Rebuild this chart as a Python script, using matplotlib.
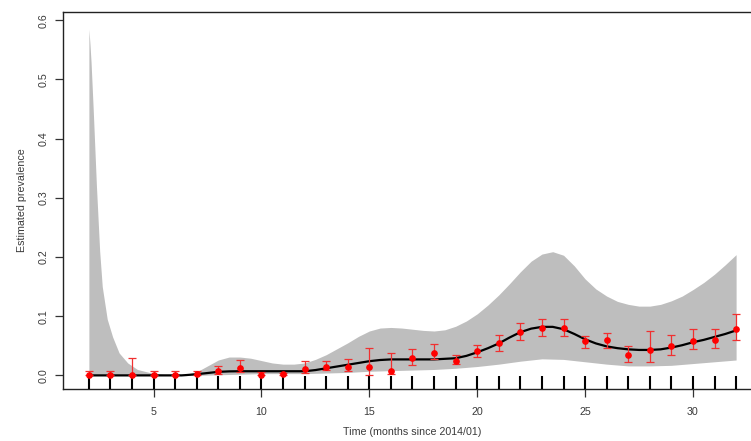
import numpy as np
import matplotlib.pyplot as plt

plt.rcParams['font.family'] = ['Liberation Sans', 'DejaVu Sans']

# %% observed monthly prevalence (red points) with error bars
months = np.arange(2, 33)
obs = [0.0, 0.0, 0.0, 0.0, 0.0, 0.003, 0.007, 0.013, 0.001, 0.002,
       0.011, 0.015, 0.014, 0.015, 0.008, 0.029, 0.038, 0.024, 0.041, 0.054,
       0.073, 0.080, 0.080, 0.058, 0.059, 0.035, 0.043, 0.049, 0.058, 0.060,
       0.079]
obs_lo = [0.0, 0.0, 0.0, 0.0, 0.0, 0.0, 0.003, 0.006, 0.0, 0.0,
          0.0045, 0.009, 0.007, 0.001, 0.002, 0.017, 0.027, 0.020, 0.0315, 0.0405,
          0.060, 0.066, 0.066, 0.047, 0.047, 0.0225, 0.0225, 0.034, 0.044, 0.046,
          0.059]
obs_hi = [0.007, 0.008, 0.030, 0.008, 0.008, 0.008, 0.016, 0.026, 0.005, 0.004,
          0.024, 0.024, 0.028, 0.047, 0.038, 0.044, 0.053, 0.034, 0.051, 0.068,
          0.088, 0.096, 0.096, 0.066, 0.072, 0.0495, 0.0744, 0.068, 0.078, 0.078,
          0.104]

# %% smoothed estimate (black line)
fit_t = [2, 3, 4, 5, 6, 6.3, 6.5, 7, 7.5, 8, 8.5, 9, 10, 11, 12, 12.5, 13, 13.5,
         14, 14.5, 15, 15.5, 16, 17, 18, 19, 19.5, 20, 20.5, 21, 21.5, 22, 22.5,
         23, 23.5, 24, 24.5, 25, 25.5, 26, 26.5, 27, 27.5, 28, 28.5, 29, 29.5,
         30, 30.5, 31, 31.5, 32]
fit = [0, 0, 0, 0, 0, 0, 0.0005, 0.002, 0.004, 0.006, 0.0068, 0.007, 0.007,
       0.007, 0.007, 0.009, 0.012, 0.015, 0.018, 0.021, 0.024, 0.026, 0.027,
       0.027, 0.027, 0.029, 0.033, 0.039, 0.046, 0.054, 0.064, 0.073, 0.079,
       0.082, 0.082, 0.078, 0.070, 0.061, 0.054, 0.049, 0.046, 0.044, 0.043,
       0.043, 0.044, 0.047, 0.051, 0.056, 0.060, 0.065, 0.070, 0.076]

# %% uncertainty band (grey)
band_t = [2, 2.05, 2.1, 2.2, 2.35, 2.5, 2.62, 2.85, 3.1, 3.4, 3.8, 4.25, 4.85,
          5.5, 6.5, 7, 7.5, 8, 8.5, 9, 9.5, 10, 10.5, 11, 11.5, 12, 12.5, 13,
          13.5, 14, 14.5, 15, 15.5, 16, 16.5, 17, 17.5, 18, 18.5, 19, 19.5, 20,
          20.5, 21, 21.5, 22, 22.5, 23, 23.5, 24, 24.5, 25, 25.5, 26, 26.5, 27,
          27.5, 28, 28.5, 29, 29.5, 30, 30.5, 31, 31.5, 32]
band_hi = [0.585, 0.56, 0.53, 0.45, 0.32, 0.21, 0.15, 0.095, 0.065, 0.038,
           0.021, 0.010, 0.0045, 0.002, 0.002, 0.006, 0.016, 0.026, 0.031,
           0.031, 0.029, 0.025, 0.021, 0.019, 0.019, 0.021, 0.027, 0.035,
           0.045, 0.055, 0.066, 0.075, 0.080, 0.081, 0.080, 0.078, 0.076,
           0.075, 0.077, 0.083, 0.092, 0.104, 0.119, 0.136, 0.155, 0.175,
           0.193, 0.205, 0.209, 0.203, 0.185, 0.163, 0.146, 0.134, 0.125,
           0.120, 0.117, 0.117, 0.120, 0.126, 0.134, 0.145, 0.157, 0.171,
           0.187, 0.204]
band_lo_t = [2, 7, 8, 9, 10, 11, 12, 13, 14, 15, 16, 17, 18, 19, 20, 21, 22,
             23, 24, 25, 26, 27, 28, 29, 30, 31, 32]
band_lo_v = [0, 0, 0.001, 0.002, 0.003, 0.003, 0.003, 0.004, 0.005, 0.007,
             0.008, 0.009, 0.010, 0.012, 0.015, 0.019, 0.024, 0.028, 0.027,
             0.023, 0.019, 0.016, 0.016, 0.017, 0.020, 0.023, 0.026]
band_lo = np.interp(band_t, band_lo_t, band_lo_v)

# %% Plot
txt = '#3a3a3a'
fig = plt.figure(figsize=(7.51, 4.41), dpi=100)
ax = fig.add_axes([63 / 751, 1 - 389 / 441, 699 / 751, 377 / 441])

ax.fill_between(band_t, band_lo, band_hi, color='#bebebe', lw=0, zorder=1)
ax.plot(fit_t, fit, color='black', lw=1.6, zorder=2)
ax.vlines(months, 0, 0.034, transform=ax.get_xaxis_transform(),
          color='black', lw=1.5, zorder=3)

obs = np.array(obs)
yerr = [obs - np.array(obs_lo), np.array(obs_hi) - obs]
ax.errorbar(months, obs, yerr=yerr, fmt='o', color='red', ms=3.8,
            ecolor='#f03030', elinewidth=0.9, capsize=2.6, capthick=0.9,
            zorder=4)

ax.set_xlim(0.8, 33.2)
ax.set_ylim(-0.023, 0.614)
ax.set_xticks([5, 10, 15, 20, 25, 30])
ax.set_yticks([0.0, 0.1, 0.2, 0.3, 0.4, 0.5, 0.6])
ax.set_yticklabels(['0.0', '0.1', '0.2', '0.3', '0.4', '0.5', '0.6'],
                   rotation=90, va='center')
ax.tick_params(axis='both', direction='out', length=6, width=0.9,
               colors='#333333', labelcolor=txt, labelsize=7.7)
ax.tick_params(axis='x', pad=7)
ax.tick_params(axis='y', pad=4)
for s in ax.spines.values():
    s.set_linewidth(1.0)
    s.set_color('#222222')
ax.spines['right'].set_visible(False)

ax.set_xlabel('Time (months since 2014/01)', fontsize=7.7, color=txt, labelpad=7)
ax.set_ylabel('Estimated prevalence', fontsize=7.7, color=txt, labelpad=9)

fig.savefig('out.png', dpi=100)
